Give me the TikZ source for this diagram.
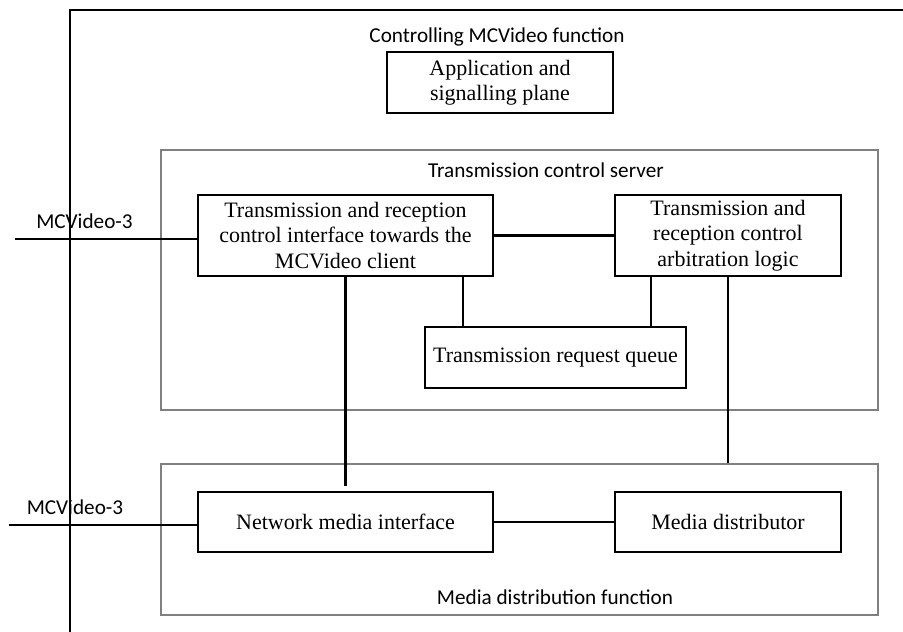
\documentclass[tikz,border=0pt]{standalone}
\usepackage[svgnames]{xcolor}
\usepackage{fontspec}
\setmainfont{Liberation Serif}
\newfontfamily\labelfont{Carlito}
\usetikzlibrary{calc}

\begin{document}
\begin{tikzpicture}[x=1pt, y=-1pt, color=black, line width=2.2pt,
      every node/.append style={font=\fontsize{22}{25.5}\selectfont, align=center},
      box/.style={draw, rectangle, inner sep=0pt},
      frame/.style={draw=Gray, line width=2pt, rectangle, inner sep=0pt},
      label/.style={font=\labelfont\fontsize{21.2}{24}\selectfont, inner sep=0pt}]
	  \tikzstyle{ref} = [line width=1.5pt]
	  \useasboundingbox (0,0) rectangle (903,632);
	  % outer function
	  \draw[ref] (903,10) -- (70,10) -- (70,632);
	  \node (0_1) [label] at (497,37) {Controlling MCVideo function};
	  \node (0_2) [box, minimum width=226pt, minimum height=61pt] at (500,82.5) {Application and\\signalling plane};
	  % transmission control server
	  \node (1_1) [frame, minimum width=717pt, minimum height=260pt] at (519.5,280) {};
	  \node (1_2) [label] at (546,170) {Transmission control server};
	  \node (1_3) [box, minimum width=295pt, minimum height=81pt] at (345.5,235.5) {Transmission and reception\\control interface towards the\\MCVideo client};
	  \node (1_4) [box, minimum width=226pt, minimum height=81pt] at (728,235.5) {Transmission and\\reception control\\arbitration logic};
	  \node (1_5) [box, minimum width=261pt, minimum height=61pt] at (555.5,357.5) {Transmission request queue};
	  % media distribution function
	  \node (2_1) [frame, minimum width=717pt, minimum height=151pt] at (519.5,539.5) {};
	  \node (2_2) [label] at (555,597) {Media distribution function};
	  \node (2_3) [box, minimum width=295pt, minimum height=60pt] at (345.5,522) {Network media interface};
	  \node (2_4) [box, minimum width=226pt, minimum height=60pt] at (728,522) {Media distributor};
	  % reference points
	  \coordinate (3_1) at (15,239);
	  \coordinate (3_2) at (9,525);
	  \node (3_3) [label] at (84.5,221) {MCVideo-3};
	  \node (3_4) [label] at (75,507) {MCVideo-3};
	  \draw[ref] (3_1) -- (3_1 -| 1_3.west);
	  \draw[ref] (3_2) -- (3_2 -| 2_3.west);
	  % connections
	  \draw (1_3.east) -- (1_4.west);
	  \draw[shorten >=5pt] (1_3.south) -- (2_3.north);
	  \draw ([xshift=117.5pt]1_3.south) -- ([xshift=-92.5pt]1_5.north);
	  \draw ([xshift=-77pt]1_4.south) -- ([xshift=95.5pt]1_5.north);
	  \draw (1_4.south) -- (1_4.south |- 2_1.north);
	  \draw (2_3.east) -- (2_4.west);
\end{tikzpicture}
\end{document}
